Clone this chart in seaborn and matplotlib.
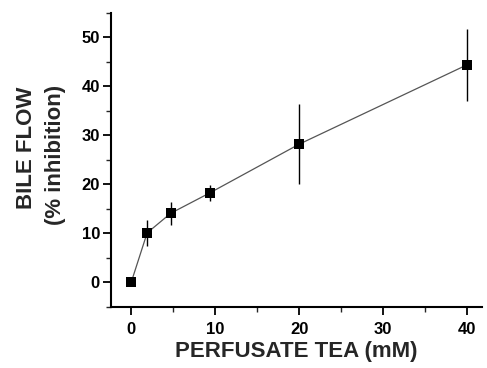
import matplotlib
matplotlib.use("Agg")
import matplotlib.pyplot as plt
import seaborn as sns
import pandas as pd
from matplotlib.ticker import MultipleLocator

tea_mM = [0, 1.9, 4.7, 9.4, 20, 40]
inhibition = [0, 10.1, 14.1, 18.3, 28.2, 44.4]
sem = [0, 2.6, 2.4, 1.6, 8.2, 7.4]
xlabel = "PERFUSATE TEA (mM)"
ylabel_lines = ["BILE FLOW", "(% inhibition)"]

df = pd.DataFrame({"tea": tea_mM, "inh": inhibition, "sem": sem})

sns.set_style("ticks")
plt.rcParams["font.family"] = ["Liberation Sans", "DejaVu Sans"]
plt.rcParams["font.weight"] = "bold"

fig = plt.figure(figsize=(4.87, 3.68), dpi=100)
ax = fig.add_axes([0.228, 0.166, 0.762, 0.799])

ax.errorbar(df["tea"], df["inh"], yerr=df["sem"], fmt="none", ecolor="black",
            elinewidth=1.0, capsize=0, zorder=2)
sns.lineplot(data=df, x="tea", y="inh", ax=ax, color="#555555", linewidth=0.9,
             zorder=1)
sns.scatterplot(data=df, x="tea", y="inh", ax=ax, marker="s", s=52,
                color="black", linewidth=0, zorder=3)

ax.set_xlim(-2.4, 41.8)
ax.set_ylim(-5, 55)
ax.xaxis.set_major_locator(MultipleLocator(10))
ax.xaxis.set_minor_locator(MultipleLocator(5))
ax.yaxis.set_minor_locator(MultipleLocator(5))
ax.set_yticks([0, 10, 20, 30, 40, 50])

for s in ["top", "right"]:
    ax.spines[s].set_visible(False)
for s in ["left", "bottom"]:
    ax.spines[s].set_linewidth(1.5)
    ax.spines[s].set_color("black")

ax.tick_params(which="major", direction="out", length=6, width=1.3,
               labelsize=12, colors="black")
ax.tick_params(axis="x", which="major", pad=5)
ax.tick_params(axis="y", which="major", pad=2)
ax.tick_params(which="minor", direction="out", length=3.5, width=1.0)
for lab in ax.get_xticklabels() + ax.get_yticklabels():
    lab.set_fontweight("bold")

ax.set_xlabel(xlabel, fontsize=16, fontweight="bold", labelpad=3)
ax.set_ylabel("")
fig.text(26.5 / 487, 1 - 148 / 368, ylabel_lines[0], rotation=90, ha="center",
         va="center", fontsize=16, fontweight="bold")
fig.text(56 / 487, 1 - 155 / 368, ylabel_lines[1], rotation=90, ha="center",
         va="center", fontsize=16, fontweight="bold")

fig.savefig("out.png", dpi=100)
